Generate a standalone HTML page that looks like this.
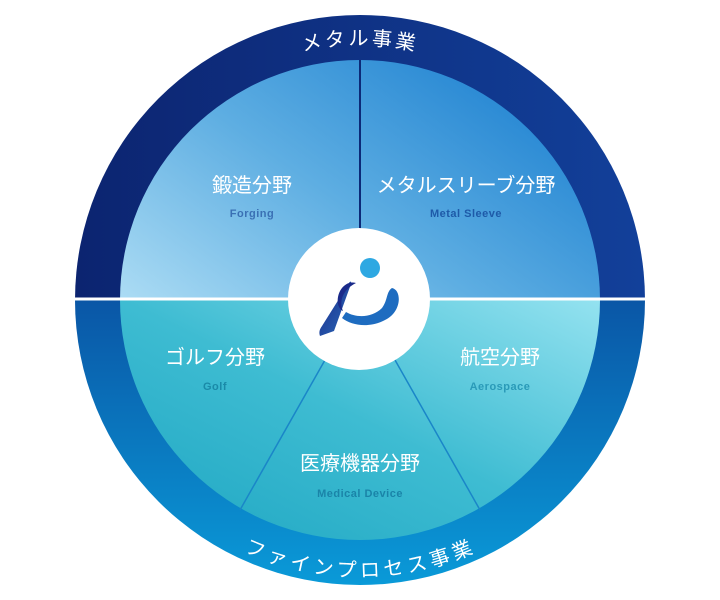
<!DOCTYPE html>
<html><head><meta charset="utf-8"><style>
html,body{margin:0;padding:0;background:#fff;width:720px;height:600px;overflow:hidden}
svg{display:block}
.t{font-family:"Liberation Sans","Noto Sans CJK JP",sans-serif;fill:#fff;font-size:20px;text-anchor:middle}
.s{font-family:"Liberation Sans","Noto Sans CJK JP",sans-serif;font-size:11px;font-weight:bold;text-anchor:middle;letter-spacing:0.5px}
</style></head><body>
<svg width="720" height="600" viewBox="0 0 720 600">
<defs>
<linearGradient id="rt" x1="0" y1="0" x2="1" y2="0"><stop offset="0" stop-color="#0c2470"/><stop offset="1" stop-color="#12409a"/></linearGradient>
<linearGradient id="rb" x1="0" y1="0" x2="0" y2="1"><stop offset="0" stop-color="#0a56a6"/><stop offset="1" stop-color="#0a9ad8"/></linearGradient>
<linearGradient id="it" x1="0" y1="1" x2="1" y2="0.3"><stop offset="0" stop-color="#acdcf4"/><stop offset="0.5" stop-color="#5eaee2"/><stop offset="1" stop-color="#2284d2"/></linearGradient>
<linearGradient id="ib" x1="0" y1="1" x2="1" y2="0"><stop offset="0" stop-color="#1ea6c2"/><stop offset="0.5" stop-color="#3ebcd2"/><stop offset="1" stop-color="#94e2f0"/></linearGradient>
<linearGradient id="lg" x1="0" y1="0" x2="1" y2="1"><stop offset="0" stop-color="#1a2a8a"/><stop offset="1" stop-color="#2a6ab8"/></linearGradient>
<path id="arcT" d="M 105 300 A 255 255 0 0 1 615 300"/>
<path id="arcB" d="M 97 300 A 263 263 0 0 0 623 300"/>
</defs>
<path d="M75 300 A285 285 0 0 1 645 300 Z" fill="url(#rt)"/>
<path d="M75 300 A285 285 0 0 0 645 300 Z" fill="url(#rb)"/>
<path d="M120 300 A240 240 0 0 1 600 300 Z" fill="url(#it)"/>
<path d="M120 300 A240 240 0 0 0 600 300 Z" fill="url(#ib)"/>
<line x1="360" y1="60" x2="360" y2="300" stroke="#0c2a78" stroke-width="2"/>
<line x1="75" y1="299" x2="645" y2="299" stroke="#fff" stroke-width="3"/>
<line x1="325" y1="360" x2="240" y2="510" stroke="#1a86c8" stroke-width="1.5"/>
<line x1="395" y1="360" x2="480" y2="510" stroke="#1a86c8" stroke-width="1.5"/>
<circle cx="359" cy="299" r="71" fill="#fff"/>
<circle cx="370" cy="268" r="10" fill="#2ea8e2"/>
<path d="M392 288 C402 290 402 312 385 320 C370 328 352 326 342 318 L346 312 C356 318 372 318 382 308 C388 300 386 292 392 288 Z" fill="#1e6cc0"/>
<path d="M334 331 L320 336 C319 333 319 330 322 326 L349 283 C350 281 352 281 351 284 Z" fill="url(#lg)"/>
<path d="M356 283 C345 280 336 292 338 304 C339 308 341 310 343 311 C339 302 342 290 356 283 Z" fill="#1a2a8a"/>
<text class="t" font-size="19" letter-spacing="3"><textPath href="#arcT" startOffset="50%">メタル事業</textPath></text>
<text class="t" font-size="19" letter-spacing="3" dominant-baseline="hanging"><textPath href="#arcB" startOffset="50%">ファインプロセス事業</textPath></text>
<text class="t" x="252" y="192">鍛造分野</text>
<text class="s" x="252" y="217" fill="#3a70b4">Forging</text>
<text class="t" x="466" y="192">メタルスリーブ分野</text>
<text class="s" x="466" y="217" fill="#1e5aa8">Metal Sleeve</text>
<text class="t" x="215" y="364">ゴルフ分野</text>
<text class="s" x="215" y="390" fill="#1a8aa8">Golf</text>
<text class="t" x="500" y="364">航空分野</text>
<text class="s" x="500" y="390" fill="#2a9ab8">Aerospace</text>
<text class="t" x="360" y="470">医療機器分野</text>
<text class="s" x="360" y="497" fill="#1a84a8">Medical Device</text>
</svg>
</body></html>
